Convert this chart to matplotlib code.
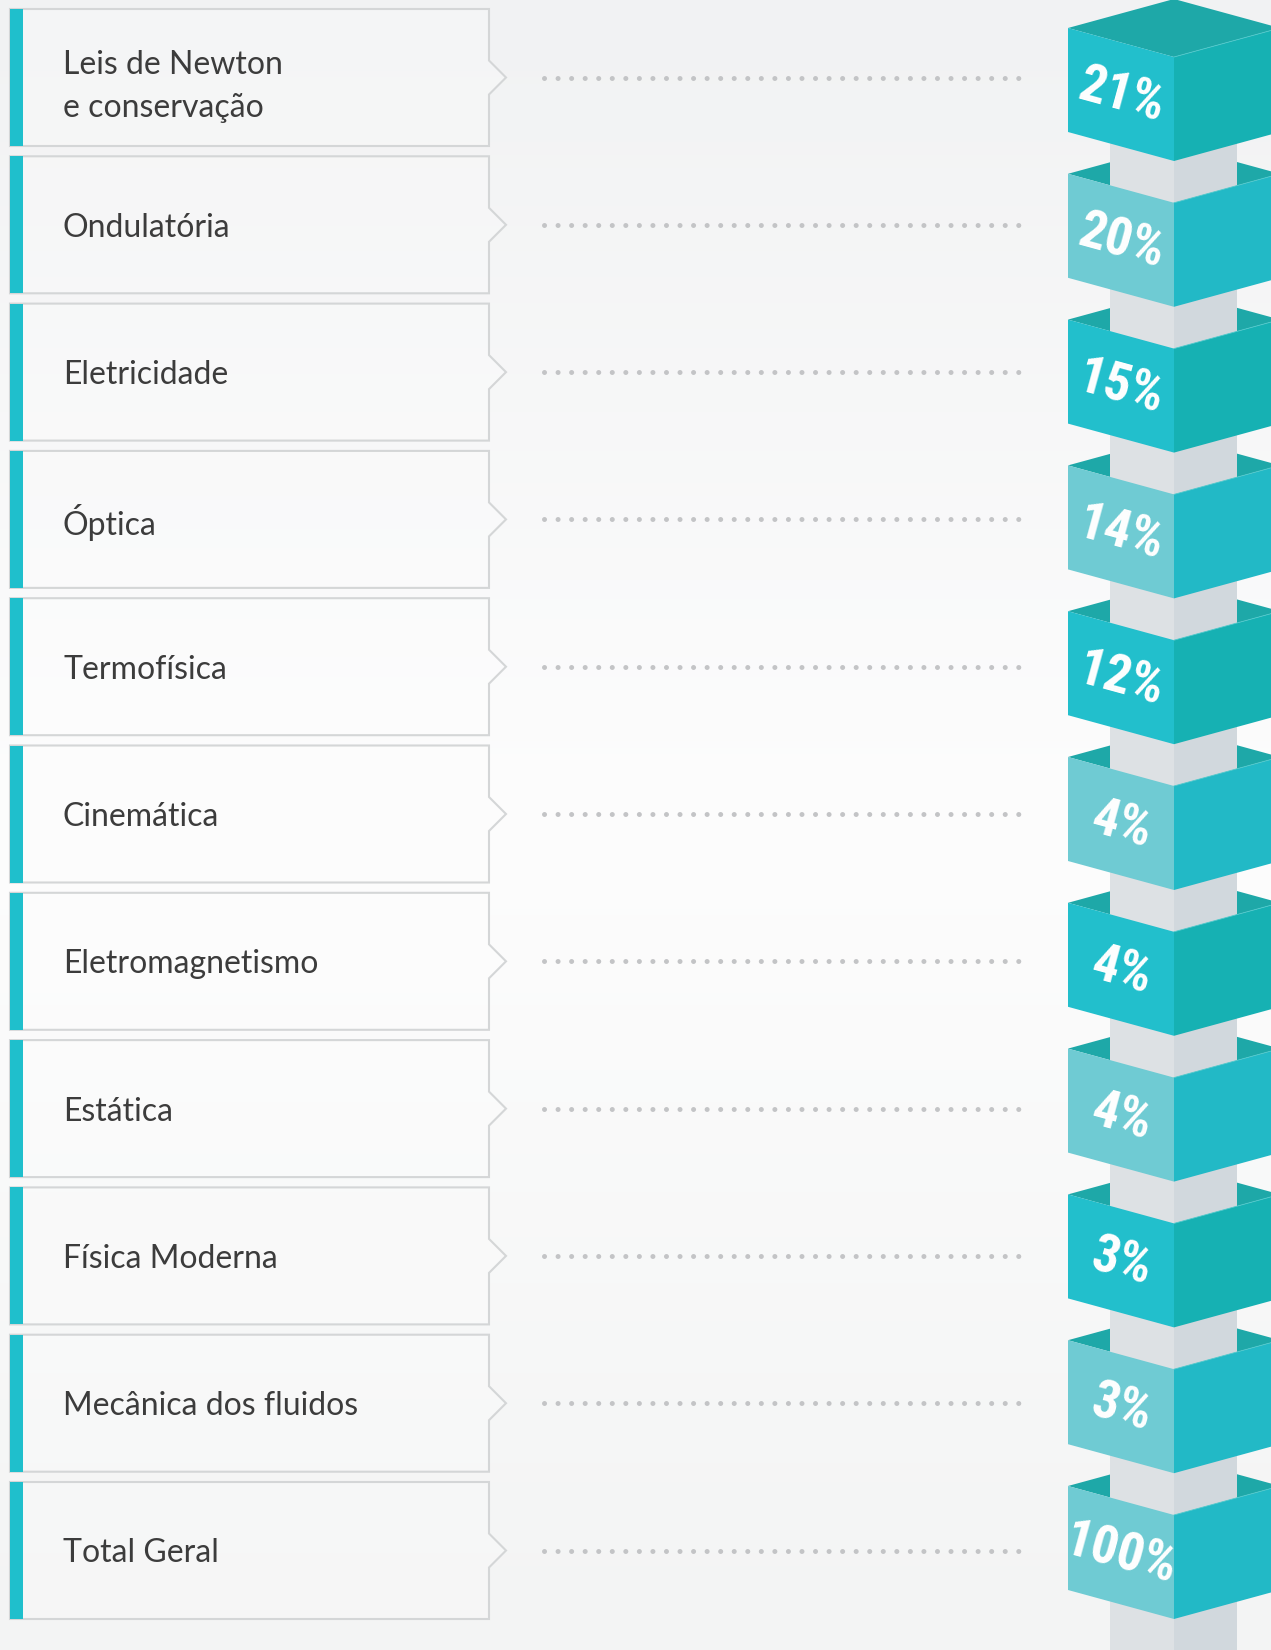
import numpy as np
import matplotlib.pyplot as plt
from matplotlib.patches import Polygon, Rectangle
from matplotlib.colors import LinearSegmentedColormap
from matplotlib import font_manager

# data
categories = ["Leis de Newton\ne conservação", "Ondulatória", "Eletricidade", "Óptica",
              "Termofísica", "Cinemática", "Eletromagnetismo", "Estática",
              "Física Moderna", "Mecânica dos fluidos", "Total Geral"]
values = [21, 20, 15, 14, 12, 4, 4, 4, 3, 3, 100]
# 0 = strong teal, 1 = pale teal
cube_shade = [0, 1, 0, 1, 0, 1, 0, 1, 0, 1, 1]

W, H = 1271, 1650
fig = plt.figure(figsize=(W / 100, H / 100), dpi=100)
ax = fig.add_axes([0, 0, 1, 1])
ax.set_xlim(0, W)
ax.set_ylim(H, 0)
ax.axis('off')

# background gradient
bg = LinearSegmentedColormap.from_list('bg', [(0, '#f1f2f3'), (0.5, '#fdfdfd'), (1, '#f3f4f4')])
ax.imshow(np.linspace(0, 1, 256).reshape(-1, 1), cmap=bg, extent=(0, W, H, 0),
          aspect='auto', zorder=0)

names = {f.name for f in font_manager.fontManager.ttflist}
num_font = next((n for n in ['Liberation Sans Narrow', 'DejaVu Sans Condensed', 'Roboto Condensed']
                 if n in names), 'DejaVu Sans')
num_size = 38 if num_font != 'DejaVu Sans' else 30

# label boxes
box_top0, box_step, box_h = 9, 147.3, 137
box_l, box_r, notch = 10, 489, 17
dot_x0, dot_x1 = 544, 1020

for i, label in enumerate(categories):
    t = box_top0 + i * box_step
    b = t + box_h
    c = (t + b) / 2
    poly = [(box_l, t), (box_r, t), (box_r, c - notch), (box_r + notch, c),
            (box_r, c + notch), (box_r, b), (box_l, b)]
    ax.add_patch(Polygon(poly, closed=True, facecolor=(1, 1, 1, 0.25),
                         edgecolor='#d4d6d7', lw=1.5, zorder=2))
    ax.add_patch(Rectangle((box_l, t), 13, box_h, facecolor='#1fbfcc', lw=0, zorder=3))
    dy = 9 if '\n' in label else 3
    ax.text(63, c + dy, label, fontsize=23, family='Lato', color='#3c3c3c',
            ha='left', va='center', linespacing=1.55, zorder=4)
    ax.plot([dot_x0, dot_x1], [c, c], color='#c3c4c6', lw=3.6,
            dashes=(0.01, 2.7), dash_capstyle='round', zorder=2)

# cubes
cube_top0, cube_step = 28, 145.8
xl, xm, xr = 1068, 1174, 1280
rise, face_h = 29, 104
col_l, col_r = 1110, 1237

ax.add_patch(Rectangle((col_l, 100), xm - col_l, H - 100, facecolor='#dde1e4', lw=0, zorder=3))
ax.add_patch(Rectangle((xm, 100), col_r - xm, H - 100, facecolor='#d1d8dd', lw=0, zorder=3))

left_cols = ['#22bfcc', '#6fcbd3']
right_cols = ['#16b1b3', '#22b9c6']
top_col = '#1ea8a8'

for i, v in enumerate(values):
    y0 = cube_top0 + i * cube_step
    s = cube_shade[i]
    ax.add_patch(Polygon([(xl, y0), (xm, y0 - rise), (xr, y0), (xm, y0 + rise)],
                         closed=True, facecolor=top_col, lw=0, zorder=2))
    ax.add_patch(Polygon([(xl, y0), (xm, y0 + rise), (xm, y0 + rise + face_h), (xl, y0 + face_h)],
                         closed=True, facecolor=left_cols[s], lw=0, zorder=4))
    ax.add_patch(Polygon([(xm, y0 + rise), (xr, y0), (xr, y0 + face_h), (xm, y0 + rise + face_h)],
                         closed=True, facecolor=right_cols[s], lw=0, zorder=4))
    ax.plot([xm, xr], [y0 + rise, y0], color='#52c9cc', lw=0.6, zorder=5)
    ax.text((xl + xm) / 2, y0 + (rise + face_h) / 2 + 2, f'{v}%', family=num_font,
            fontsize=num_size, fontweight='bold', color='white', ha='center', va='center',
            rotation=-15.3, rotation_mode='anchor', zorder=6)

fig.savefig('out.png', dpi=100)
